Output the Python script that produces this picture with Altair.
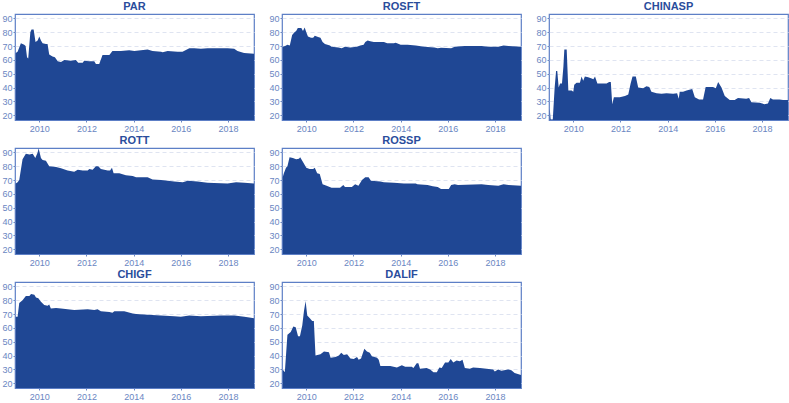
import altair as alt
import pandas as pd

# ---- data (decimal year, value) ----
PAR_x = [2009.0, 2009.08, 2009.22, 2009.36, 2009.42, 2009.48, 2009.53, 2009.62, 2009.67, 2009.76, 2009.84, 2009.93,
         2010.0, 2010.07, 2010.14, 2010.28, 2010.35, 2010.42, 2010.56, 2010.66, 2010.78, 2010.92, 2011.06, 2011.34,
         2011.55, 2011.65, 2011.84, 2011.9, 2012.12, 2012.33, 2012.4, 2012.54, 2012.68, 2012.97, 2013.1, 2013.46,
         2013.81, 2014.03, 2014.59, 2014.8, 2015.16, 2015.23, 2015.44, 2015.86, 2016.07, 2016.36, 2016.57, 2016.85,
         2017.13, 2017.98, 2018.26, 2018.4, 2018.68, 2019.1]
PAR_y = [65, 66, 72, 71, 70, 62, 61, 80, 82, 82, 73, 74,
         77, 74, 72, 71.5, 71.5, 64, 62.5, 62, 59, 58.5, 60, 59.5,
         60, 58, 58, 59.5, 59, 59, 57, 57, 63.5, 63.5, 66.5, 66.5,
         67, 66.5, 67.5, 66.5, 66, 65.5, 66.5, 66, 66, 68.5, 68.5, 68,
         68.5, 68.5, 68, 66.5, 65, 64.5]

ROSFT_x = [2009.0, 2009.1, 2009.2, 2009.3, 2009.4, 2009.5, 2009.57, 2009.64, 2009.79, 2009.86, 2009.93, 2010.0,
           2010.07, 2010.2, 2010.29, 2010.36, 2010.5, 2010.6, 2010.69, 2010.79, 2011.0, 2011.07, 2011.36, 2011.5,
           2011.64, 2011.86, 2012.14, 2012.29, 2012.43, 2012.5, 2012.6, 2012.71, 2012.86, 2013.29, 2013.43, 2013.71,
           2013.79, 2014.0, 2014.29, 2014.64, 2015.0, 2015.43, 2015.57, 2015.71, 2016.14, 2016.29, 2016.71, 2017.43,
           2017.71, 2018.14, 2018.36, 2018.57, 2019.1]
ROSFT_y = [69.5, 70, 71, 70.5, 78, 80, 81, 83, 83, 81, 83.5, 80,
           77, 76, 76, 77.5, 76.5, 76, 73, 71.5, 70.5, 69.5, 69, 68.5,
           69.5, 69, 69.5, 70.5, 71, 73, 74, 73.5, 73, 73, 72, 72,
           72.5, 71, 71, 70.5, 69.5, 69, 68.5, 68.8, 68.5, 69.5, 70, 70,
           69.5, 69.5, 70.5, 70, 69.5]

CHINASP_x = [2009.0, 2009.04, 2009.13, 2009.21, 2009.27, 2009.32, 2009.38, 2009.44, 2009.52, 2009.58, 2009.62, 2009.72,
             2009.79, 2009.93, 2010.0, 2010.04, 2010.14, 2010.28, 2010.35, 2010.42, 2010.49, 2010.63, 2010.78, 2010.85,
             2010.92, 2011.02, 2011.41, 2011.52, 2011.59, 2011.65, 2011.72, 2011.97, 2012.19, 2012.33, 2012.43, 2012.51,
             2012.65, 2012.75, 2012.96, 2013.1, 2013.22, 2013.31, 2013.53, 2013.74, 2013.95, 2014.23, 2014.4, 2014.47,
             2014.51, 2014.65, 2014.8, 2015.04, 2015.15, 2015.33, 2015.5, 2015.61, 2015.92, 2016.04, 2016.14, 2016.28,
             2016.42, 2016.63, 2016.84, 2016.98, 2017.33, 2017.45, 2017.55, 2017.9, 2018.1, 2018.25, 2018.35, 2018.46,
             2018.74, 2018.89, 2019.1]
CHINASP_y = [25, 17, 17, 40, 52, 52, 40, 43, 43, 55, 67.5, 67.5,
             38, 38, 37, 42, 43.5, 43.5, 48, 45, 48, 47.5, 46.5, 46,
             48, 43, 43, 44, 44, 28, 33, 33, 34, 35, 43, 48,
             48, 40, 39.5, 41, 40.5, 37, 36, 35.5, 36, 35.5, 36, 32,
             37, 37, 38, 39, 33, 31.5, 31.5, 40.5, 40.5, 39.5, 44, 40,
             34, 31, 31, 32.5, 32, 32.5, 29.5, 29, 28, 28.5, 32.5, 31.5,
             31.5, 31, 31]

ROTT_x = [2009.0, 2009.08, 2009.15, 2009.29, 2009.43, 2009.58, 2009.72, 2009.83, 2009.93, 2009.97, 2010.07, 2010.14,
          2010.28, 2010.42, 2010.71, 2010.92, 2011.2, 2011.48, 2011.63, 2011.84, 2012.05, 2012.12, 2012.26, 2012.4,
          2012.5, 2012.61, 2012.9, 2013.0, 2013.08, 2013.15, 2013.39, 2013.67, 2013.96, 2014.1, 2014.59, 2014.8,
          2015.16, 2015.72, 2016.08, 2016.29, 2016.71, 2017.13, 2017.98, 2018.34, 2018.69, 2019.12]
ROTT_y = [67.5, 68.5, 70, 85, 89, 88.5, 89, 86, 90, 93, 86, 84.5,
          84, 80, 79.5, 78.5, 77, 76, 77.5, 77, 77, 78, 77.5, 80,
          80, 78, 77, 77, 79, 75, 75, 73.5, 73, 72, 72, 70.5,
          70, 69, 68.5, 69.5, 69, 68, 67.5, 68.5, 68, 67.5]

ROSSP_x = [2009.0, 2009.05, 2009.14, 2009.2, 2009.29, 2009.43, 2009.57, 2009.69, 2009.74, 2009.86, 2010.0, 2010.14,
           2010.29, 2010.36, 2010.46, 2010.57, 2010.69, 2010.86, 2011.07, 2011.43, 2011.57, 2011.64, 2011.93, 2012.07,
           2012.21, 2012.36, 2012.5, 2012.64, 2012.74, 2013.14, 2013.29, 2013.71, 2014.14, 2014.64, 2014.71, 2015.14,
           2015.36, 2015.57, 2015.71, 2016.04, 2016.14, 2016.29, 2016.43, 2017.43, 2017.71, 2018.14, 2018.36, 2018.57,
           2019.1]
ROSSP_y = [72, 75, 79, 80, 86.5, 86, 85, 85.5, 86.5, 83, 79, 78,
           78, 79, 75, 74.5, 67, 66, 64.5, 64.5, 66.5, 65, 65, 67,
           66, 70, 72, 72, 69.5, 69, 68.5, 68, 67.5, 67.5, 67, 66.5,
           65.5, 65, 63.5, 63.5, 66.5, 67, 66.5, 67, 66.5, 66, 67, 66.5,
           66]

CHIGF_x = [2009.0, 2009.08, 2009.15, 2009.29, 2009.43, 2009.58, 2009.65, 2009.79, 2009.86, 2009.96, 2010.07, 2010.21,
           2010.35, 2010.42, 2010.49, 2010.71, 2010.92, 2011.48, 2012.05, 2012.33, 2012.47, 2012.61, 2012.97, 2013.1,
           2013.18, 2013.6, 2013.96, 2014.1, 2014.59, 2015.16, 2015.72, 2016.0, 2016.36, 2016.85, 2017.7, 2018.27,
           2018.69, 2018.9, 2019.12]
CHIGF_y = [68, 68, 78, 80, 83, 83, 84.5, 84, 82, 81.5, 79, 76.5,
           76, 77, 74, 74.5, 74, 73, 73.5, 73, 73.5, 72, 71.5, 71,
           72, 72, 70.5, 70, 69.5, 69, 68.5, 68, 69, 68.5, 69, 69,
           68, 67.5, 67]

DALIF_x = [2009.0, 2009.09, 2009.2, 2009.34, 2009.45, 2009.55, 2009.65, 2009.73, 2009.83, 2009.9, 2009.97, 2010.04,
           2010.15, 2010.25, 2010.32, 2010.39, 2010.6, 2010.75, 2010.96, 2011.03, 2011.24, 2011.38, 2011.48, 2011.59,
           2011.73, 2011.87, 2012.01, 2012.15, 2012.22, 2012.32, 2012.46, 2012.57, 2012.69, 2012.78, 2013.0, 2013.07,
           2013.14, 2013.56, 2013.84, 2014.05, 2014.19, 2014.47, 2014.54, 2014.68, 2014.75, 2014.82, 2015.1, 2015.25,
           2015.39, 2015.53, 2015.64, 2015.74, 2015.88, 2016.02, 2016.12, 2016.23, 2016.37, 2016.51, 2016.62, 2016.72,
           2016.93, 2017.07, 2017.36, 2017.64, 2017.92, 2017.99, 2018.13, 2018.27, 2018.55, 2018.69, 2018.83, 2019.1]
DALIF_y = [30, 28, 55, 57, 61, 60.5, 54, 54, 62, 72, 79.5, 69,
           67, 65, 65, 40, 41, 43, 42.5, 38.5, 39, 40, 42, 40.5,
           41, 38, 37.5, 39, 37, 38, 45, 43, 42, 39.5, 38.5, 37,
           32.5, 32.5, 31.5, 33, 32, 32, 31, 34.5, 34.5, 30.5, 31, 30,
           28, 28, 31.5, 31, 35, 35, 37.5, 35, 36.5, 36, 37, 31,
           30.5, 31.5, 31, 30.5, 30, 28.5, 30, 29, 30, 29.5, 27.5, 26]

rows = [
    [("PAR", PAR_x, PAR_y), ("ROSFT", ROSFT_x, ROSFT_y), ("CHINASP", CHINASP_x, CHINASP_y)],
    [("ROTT", ROTT_x, ROTT_y), ("ROSSP", ROSSP_x, ROSSP_y)],
    [("CHIGF", CHIGF_x, CHIGF_y), ("DALIF", DALIF_x, DALIF_y)],
]

FILL = "#1f4794"
TITLE_C = "#2a4d9c"
LABEL_C = "#6a86c2"
FRAME_C = "#5d7fc6"
GRID_C = "#dfe4f1"

X_DOMAIN = [2008.97, 2019.1]
Y_DOMAIN = [16.6, 93.2]


def panel(name, xs, ys):
    df = pd.DataFrame({"year": xs, "value": ys})
    return alt.Chart(df, title=alt.TitleParams(name)).mark_area(
        color=FILL, clip=True, interpolate="linear"
    ).encode(
        x=alt.X("year:Q", scale=alt.Scale(domain=X_DOMAIN, nice=False, zero=False),
                axis=alt.Axis(title=None, values=[2010, 2012, 2014, 2016, 2018], format="d",
                              grid=False, domain=False, tickSize=2, tickColor=LABEL_C,
                              labelColor=LABEL_C, labelFontSize=9, labelPadding=2)),
        y=alt.Y("value:Q", scale=alt.Scale(domain=Y_DOMAIN, nice=False, zero=False),
                axis=alt.Axis(title=None, values=[20, 30, 40, 50, 60, 70, 80, 90],
                              grid=True, gridColor=GRID_C, gridDash=[4, 3], gridWidth=1,
                              domain=False, tickSize=2, tickColor=LABEL_C,
                              labelColor=LABEL_C, labelFontSize=9, labelPadding=1)),
    ).properties(width=239, height=106)


row_charts = [alt.hconcat(*[panel(*p) for p in r], spacing=13) for r in rows]
chart = alt.vconcat(*row_charts, spacing=0).properties(
    padding={"left": 1, "top": 0, "right": 0, "bottom": 0}
).configure_view(
    stroke=FRAME_C, strokeWidth=1.2
).configure_title(
    font="Liberation Sans", fontSize=11, fontWeight="bold", color=TITLE_C, offset=2
).configure_axis(
    labelFont="Liberation Sans"
)

chart.save("out.html", embed_options={"renderer": "svg", "actions": False})
